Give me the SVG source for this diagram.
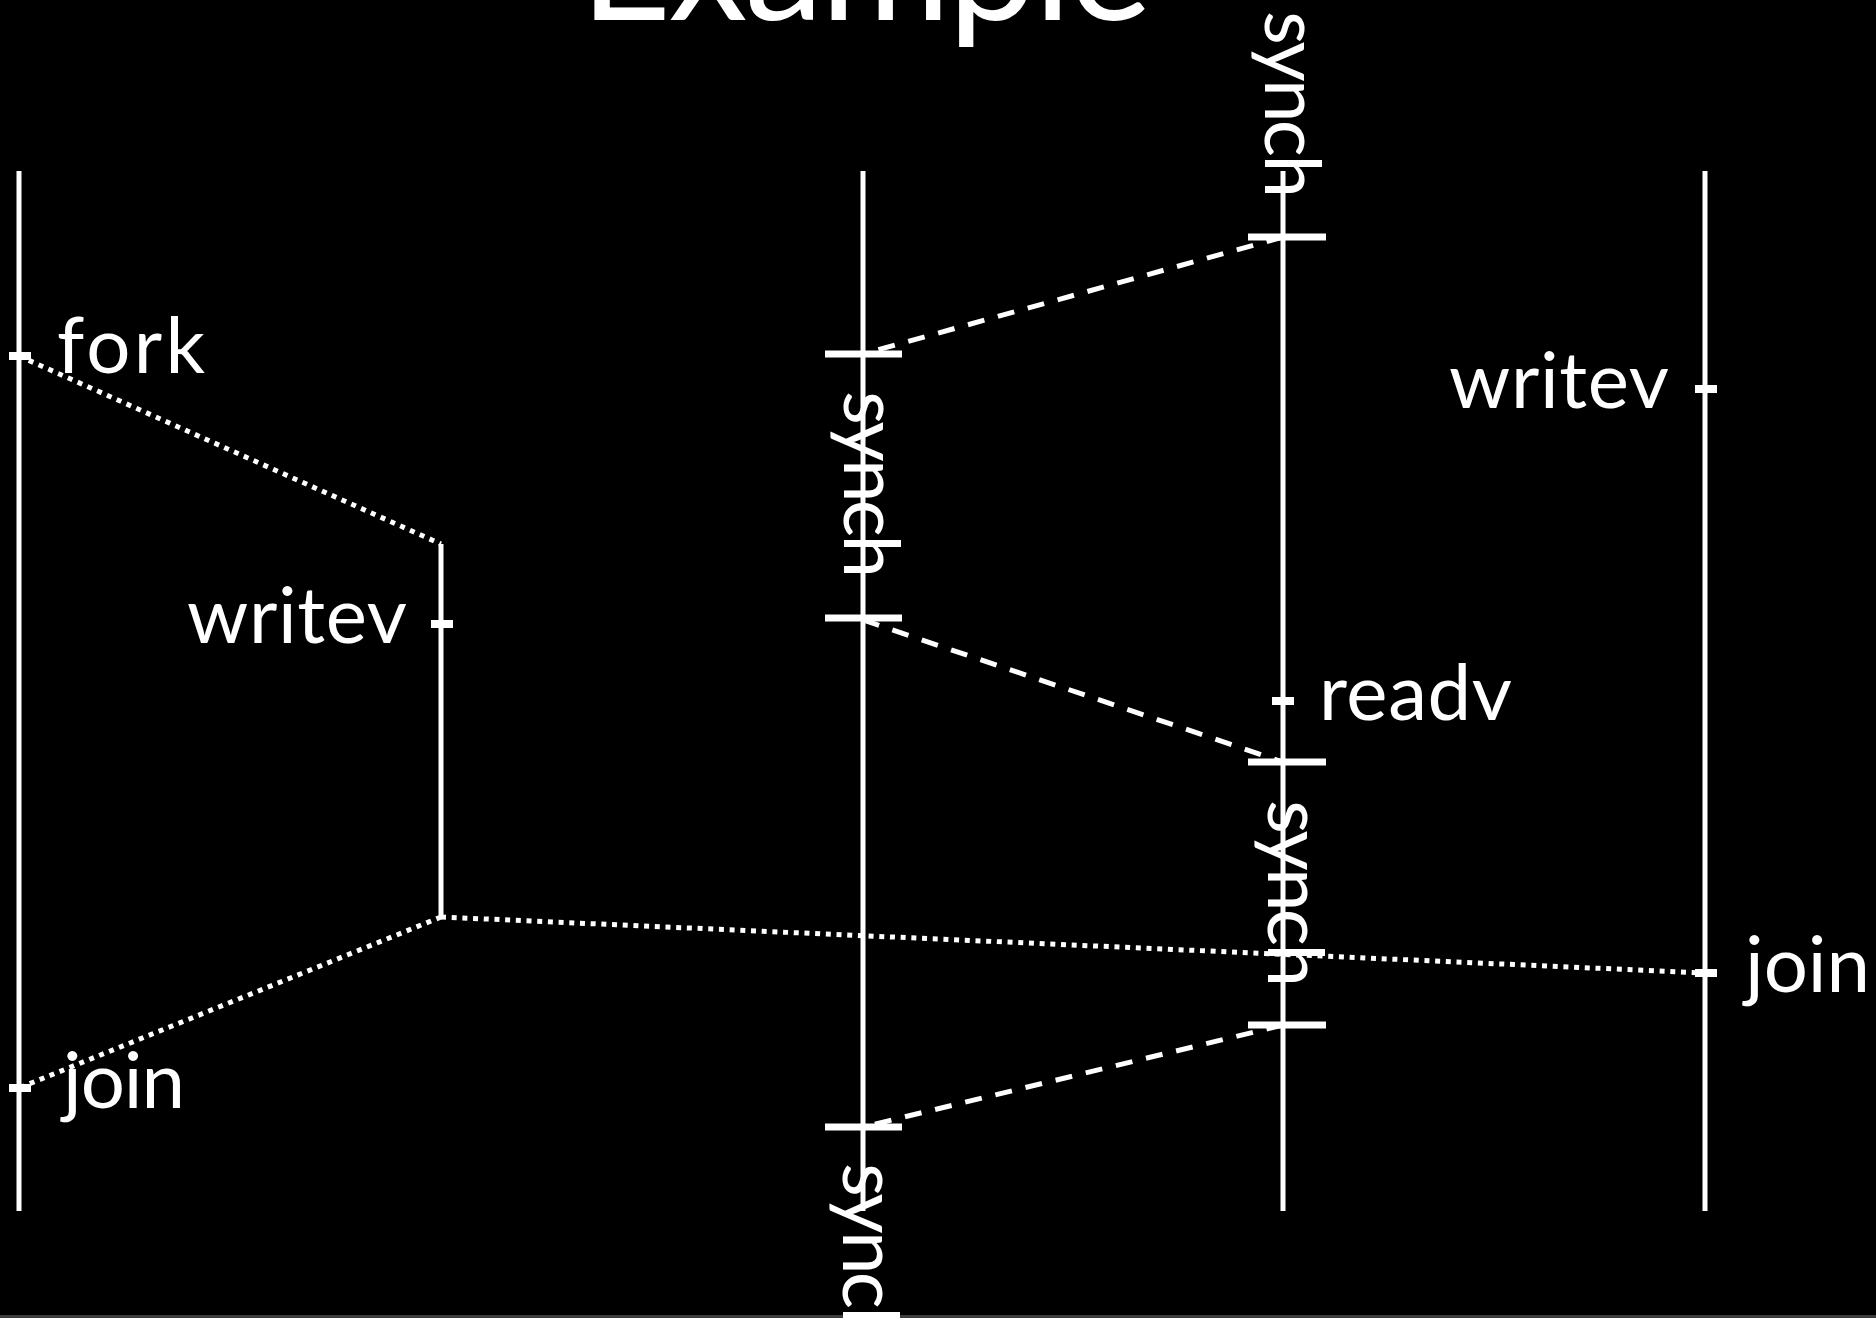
<svg xmlns="http://www.w3.org/2000/svg" width="1876" height="1318" viewBox="0 0 1876 1318">
  <style>
    .life { stroke: #ffffff; stroke-width: 5; fill: none; }
    .tick { stroke: #ffffff; stroke-width: 8; fill: none; }
    .sync { stroke: #ffffff; stroke-width: 7; fill: none; }
    .dot { stroke: #ffffff; stroke-width: 5; fill: none; stroke-dasharray: 5 5.7; }
    .dash { stroke: #ffffff; stroke-width: 5; fill: none; stroke-dasharray: 17 14; }
    .lbl { fill: #ffffff; font-family: Lato, "Liberation Sans", sans-serif; font-size: 78px; }
    .title { fill: #ffffff; font-family: Lato, "Liberation Sans", sans-serif; font-size: 158px; }
  </style>
  <rect x="0" y="0" width="1876" height="1318" fill="#000000"/>
  <rect x="0" y="1315" width="1876" height="3" fill="#3c3c3c"/>

  <text class="title" x="866" y="20" text-anchor="middle" textLength="572">Example</text>

  <g id="connectors">
    <line class="dot" x1="19" y1="356" x2="441" y2="544"/>
    <line class="dot" x1="441" y1="917" x2="19" y2="1088"/>
    <line class="dot" x1="441" y1="917" x2="1705" y2="973"/>
    <line class="dash" x1="1283" y1="237" x2="863" y2="354"/>
    <line class="dash" x1="863" y1="620" x2="1283" y2="762"/>
    <line class="dash" x1="1283" y1="1025" x2="863" y2="1127"/>
  </g>

  <g id="thread1">
    <line class="life" x1="19" y1="171" x2="19" y2="1211"/>
    <line class="tick" x1="9" y1="356" x2="31" y2="356"/>
    <line class="tick" x1="9" y1="1088" x2="31" y2="1088"/>
    <text class="lbl" x="57" y="373" textLength="148">fork</text>
    <text class="lbl" x="63" y="1108" textLength="122">join</text>
  </g>

  <g id="thread2">
    <line class="life" x1="441" y1="544" x2="441" y2="917"/>
    <line class="tick" x1="431" y1="624" x2="453" y2="624"/>
    <text class="lbl" x="187" y="643" textLength="220">writev</text>
  </g>

  <g id="thread3">
    <line class="life" x1="863" y1="171" x2="863" y2="1211"/>
    <line class="sync" x1="825" y1="354" x2="902" y2="354"/>
    <line class="sync" x1="825" y1="618" x2="902" y2="618"/>
    <line class="sync" x1="825" y1="1127" x2="902" y2="1127"/>
    <text class="lbl" transform="translate(844,391) rotate(90)" textLength="187">synch</text>
    <text class="lbl" transform="translate(843,1163) rotate(90)" textLength="187">synch</text>
  </g>

  <g id="thread4">
    <line class="life" x1="1283" y1="171" x2="1283" y2="1211"/>
    <line class="sync" x1="1248" y1="237" x2="1326" y2="237"/>
    <line class="sync" x1="1248" y1="762" x2="1326" y2="762"/>
    <line class="sync" x1="1248" y1="1025" x2="1326" y2="1025"/>
    <line class="tick" x1="1272" y1="701" x2="1294" y2="701"/>
    <text class="lbl" transform="translate(1265,11) rotate(90)" textLength="187">synch</text>
    <text class="lbl" transform="translate(1268,800) rotate(90)" textLength="187">synch</text>
    <text class="lbl" x="1319" y="720" textLength="193">readv</text>
  </g>

  <g id="thread5">
    <line class="life" x1="1705" y1="171" x2="1705" y2="1211"/>
    <line class="tick" x1="1695" y1="389" x2="1717" y2="389"/>
    <line class="tick" x1="1695" y1="973" x2="1717" y2="973"/>
    <text class="lbl" x="1449" y="408" textLength="220">writev</text>
    <text class="lbl" x="1745" y="992" textLength="125">join</text>
  </g>
</svg>
